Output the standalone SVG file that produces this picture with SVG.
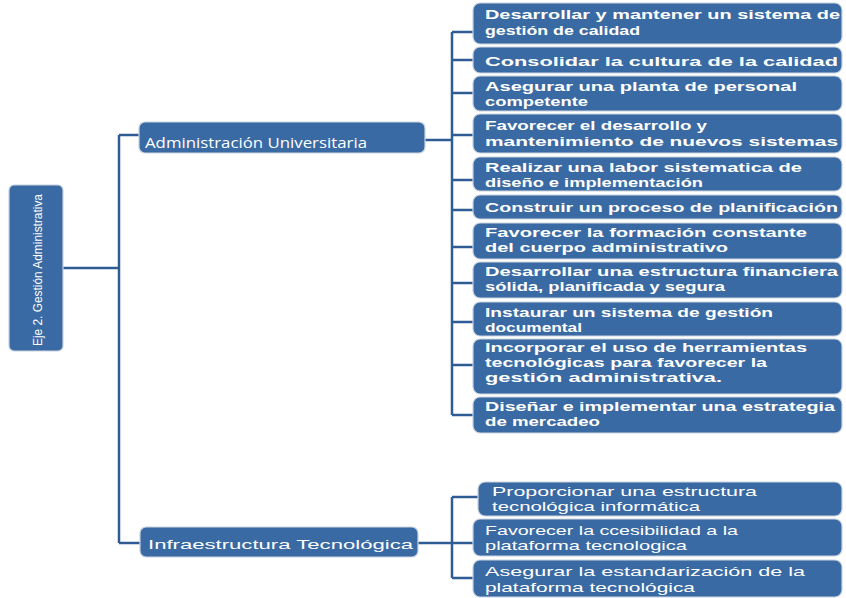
<svg xmlns="http://www.w3.org/2000/svg" width="846" height="598" viewBox="0 0 846 598">
<style>
.box{fill:#3a6aa3;stroke:#c9d3df;stroke-width:1.2}
.ln{fill:none;stroke:#2f5c95;stroke-width:2.5}
.t{fill:#ffffff;font-family:"Liberation Sans",Arial,sans-serif;font-size:13px;font-weight:bold}
.r{fill:#ffffff;font-family:"Liberation Sans",Arial,sans-serif;font-size:13px}
.m{fill:#ffffff;font-family:"Open Sans","Liberation Sans",sans-serif;font-size:15px}
</style>
<rect width="846" height="598" fill="#ffffff"/>
<g id="connectors">
<path class="ln" d="M63,268 H119 M119,135 V543 M119,135 H139 M119,543 H140"/>
<path class="ln" d="M425,140 H452 M452,32 V415 M452,32 H473 M452,60 H473 M452,93 H473 M452,135 H473 M452,180 H473 M452,210 H473 M452,247 H473 M452,283 H473 M452,322 H473 M452,365 H473 M452,415 H473"/>
<path class="ln" d="M418,543 H452 M452,497 V578 M452,497 H478 M452,543 H473 M452,578 H473"/>
</g>
<g id="root">
<rect class="box" x="9" y="185" width="54" height="166" rx="5"/>
<text class="r" transform="translate(42,346) rotate(-90)" font-size="16" textLength="152" lengthAdjust="spacingAndGlyphs">Eje 2. Gestión Administrativa</text>
</g>
<g id="admin">
<rect class="box" x="139" y="122" width="286" height="31" rx="6"/>
<text class="m" x="145" y="148" textLength="222" lengthAdjust="spacingAndGlyphs">Administración Universitaria</text>
</g>
<g id="infra">
<rect class="box" x="140" y="527" width="278" height="30" rx="6"/>
<text class="r" x="148" y="549" font-size="15" textLength="265" lengthAdjust="spacingAndGlyphs">Infraestructura Tecnológica</text>
</g>
<g id="a1">
<rect class="box" x="473" y="3" width="369" height="41" rx="7"/>
<text class="t" x="485" y="19" textLength="355" lengthAdjust="spacingAndGlyphs">Desarrollar y mantener un sistema de</text>
<text class="t" x="485" y="35" textLength="155" lengthAdjust="spacingAndGlyphs">gestión de calidad</text>
</g>
<g id="a2">
<rect class="box" x="473" y="47" width="369" height="26" rx="7"/>
<text class="t" x="485" y="66" textLength="353" lengthAdjust="spacingAndGlyphs">Consolidar la cultura de la calidad</text>
</g>
<g id="a3">
<rect class="box" x="473" y="76" width="369" height="35" rx="7"/>
<text class="t" x="485" y="91" textLength="312" lengthAdjust="spacingAndGlyphs">Asegurar una planta de personal</text>
<text class="t" x="485" y="106" textLength="103" lengthAdjust="spacingAndGlyphs">competente</text>
</g>
<g id="a4">
<rect class="box" x="473" y="114" width="369" height="39" rx="7"/>
<text class="t" x="485" y="130" textLength="222" lengthAdjust="spacingAndGlyphs">Favorecer el desarrollo y</text>
<text class="t" x="485" y="146" textLength="353" lengthAdjust="spacingAndGlyphs">mantenimiento de nuevos sistemas</text>
</g>
<g id="a5">
<rect class="box" x="473" y="157" width="369" height="34" rx="7"/>
<text class="t" x="485" y="172" textLength="317" lengthAdjust="spacingAndGlyphs">Realizar una labor sistematica de</text>
<text class="t" x="485" y="187" textLength="218" lengthAdjust="spacingAndGlyphs">diseño e implementación</text>
</g>
<g id="a6">
<rect class="box" x="473" y="195" width="369" height="24" rx="7"/>
<text class="t" x="485" y="212" textLength="353" lengthAdjust="spacingAndGlyphs">Construir un proceso de planificación</text>
</g>
<g id="a7">
<rect class="box" x="473" y="223" width="369" height="36" rx="7"/>
<text class="t" x="485" y="237" textLength="322" lengthAdjust="spacingAndGlyphs">Favorecer la formación constante</text>
<text class="t" x="485" y="252" textLength="243" lengthAdjust="spacingAndGlyphs">del cuerpo administrativo</text>
</g>
<g id="a8">
<rect class="box" x="473" y="262" width="369" height="36" rx="7"/>
<text class="t" x="485" y="276" textLength="353" lengthAdjust="spacingAndGlyphs">Desarrollar una estructura financiera</text>
<text class="t" x="485" y="291" textLength="240" lengthAdjust="spacingAndGlyphs">sólida, planificada y segura</text>
</g>
<g id="a9">
<rect class="box" x="473" y="302" width="369" height="34" rx="7"/>
<text class="t" x="485" y="317" textLength="288" lengthAdjust="spacingAndGlyphs">Instaurar un sistema de gestión</text>
<text class="t" x="485" y="332" textLength="97" lengthAdjust="spacingAndGlyphs">documental</text>
</g>
<g id="a10">
<rect class="box" x="473" y="339" width="369" height="55" rx="7"/>
<text class="t" x="485" y="352" textLength="322" lengthAdjust="spacingAndGlyphs">Incorporar el uso de herramientas</text>
<text class="t" x="485" y="367" textLength="282" lengthAdjust="spacingAndGlyphs">tecnológicas para favorecer la</text>
<text class="t" x="485" y="382" textLength="237" lengthAdjust="spacingAndGlyphs">gestión administrativa.</text>
</g>
<g id="a11">
<rect class="box" x="473" y="397" width="369" height="36" rx="7"/>
<text class="t" x="485" y="411" textLength="350" lengthAdjust="spacingAndGlyphs">Diseñar e implementar una estrategia</text>
<text class="t" x="485" y="426" textLength="115" lengthAdjust="spacingAndGlyphs">de mercadeo</text>
</g>
<g id="i1">
<rect class="box" x="478" y="482" width="364" height="34" rx="7"/>
<text class="r" x="492" y="496" textLength="265" lengthAdjust="spacingAndGlyphs">Proporcionar una estructura</text>
<text class="r" x="492" y="511" textLength="208" lengthAdjust="spacingAndGlyphs">tecnológica informática</text>
</g>
<g id="i2">
<rect class="box" x="473" y="519" width="369" height="37" rx="7"/>
<text class="r" x="485" y="535" textLength="253" lengthAdjust="spacingAndGlyphs">Favorecer la ccesibilidad a la</text>
<text class="r" x="485" y="550" textLength="202" lengthAdjust="spacingAndGlyphs">plataforma tecnologica</text>
</g>
<g id="i3">
<rect class="box" x="473" y="560" width="369" height="37" rx="7"/>
<text class="r" x="485" y="576" textLength="320" lengthAdjust="spacingAndGlyphs">Asegurar la estandarización de la</text>
<text class="r" x="485" y="592" textLength="210" lengthAdjust="spacingAndGlyphs">plataforma tecnológica</text>
</g>
</svg>
